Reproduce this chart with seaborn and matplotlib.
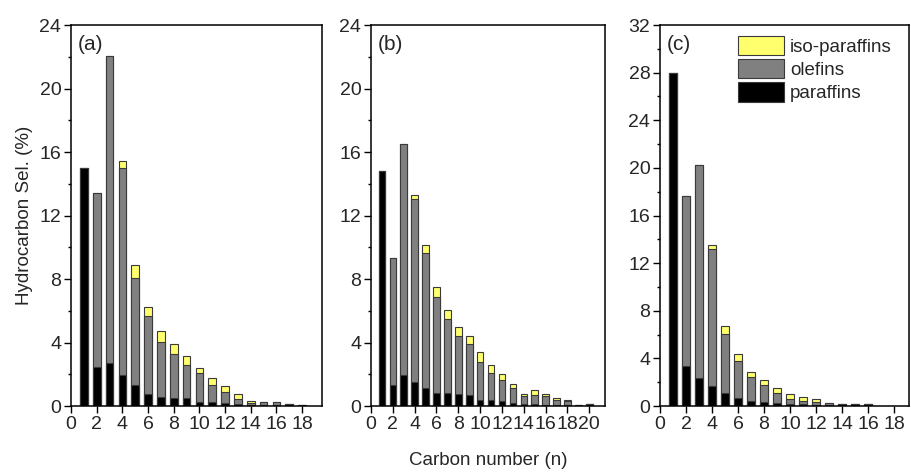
"""
탄화수소 선택도 분포 (a)(b)(c) - 적층 막대그래프
"""

import numpy as np
import matplotlib
matplotlib.use('Agg')
import matplotlib.pyplot as plt
import seaborn as sns
from matplotlib.patches import Patch
from matplotlib.ticker import MultipleLocator

sns.set_style('ticks')
plt.rcParams['font.family'] = ['Liberation Sans', 'DejaVu Sans']

# 데이터 (그림에서 읽은 값, %)
carbon_a = np.arange(1, 19)
paraffins_a = [15.0, 2.45, 2.68, 1.97, 1.30, 0.75, 0.59, 0.52, 0.48, 0.25, 0.25, 0.21, 0.15, 0.06, 0.06, 0.05, 0.13, 0.08]
olefins_a = [0, 10.95, 19.4, 13.0, 6.75, 4.93, 3.46, 2.75, 2.08, 1.83, 1.07, 0.67, 0.29, 0.13, 0.19, 0.20, 0, 0]
iso_a = [0, 0, 0, 0.48, 0.82, 0.57, 0.67, 0.63, 0.58, 0.31, 0.42, 0.36, 0.31, 0.12, 0, 0, 0, 0]

carbon_b = np.arange(1, 21)
paraffins_b = [14.8, 1.33, 1.94, 1.52, 1.12, 0.84, 0.84, 0.78, 0.67, 0.36, 0.36, 0.29, 0.21, 0.13, 0.13, 0.06, 0.06, 0.04, 0.06, 0.13]
olefins_b = [0, 8.02, 14.59, 11.53, 8.50, 6.02, 4.65, 3.64, 3.22, 2.44, 1.72, 1.33, 0.91, 0.50, 0.59, 0.55, 0.34, 0.29, 0, 0]
iso_b = [0, 0, 0, 0.25, 0.51, 0.61, 0.59, 0.55, 0.53, 0.59, 0.53, 0.38, 0.29, 0.15, 0.27, 0.17, 0.11, 0.05, 0, 0]

carbon_c = np.arange(1, 17)
paraffins_c = [28.0, 3.34, 2.38, 1.71, 1.07, 0.70, 0.42, 0.34, 0.25, 0.17, 0.14, 0.11, 0.12, 0.17, 0.14, 0.14]
olefins_c = [0, 14.27, 17.89, 11.47, 4.99, 3.06, 2.02, 1.43, 0.82, 0.45, 0.25, 0.23, 0.10, 0, 0, 0]
iso_c = [0, 0, 0, 0.31, 0.64, 0.59, 0.45, 0.42, 0.42, 0.36, 0.34, 0.22, 0, 0, 0, 0]

panel_labels = ['(a)', '(b)', '(c)']
y_max = [24, 24, 32]
x_max = [19.55, 21.44, 19.15]
x_ticks = [np.arange(0, 19, 2), np.arange(0, 21, 2), np.arange(0, 19, 2)]

# 색상
C_ISO = '#FFFF6E'
C_OLE = '#808080'
C_PAR = '#000000'
EDGE = '#3a3a3a'

# 축 위치 (figure 비율)
rects = [
    [0.0779, 0.1416, 0.2752, 0.8055],
    [0.4068, 0.1416, 0.2566, 0.8055],
    [0.7237, 0.1416, 0.2730, 0.8055],
]

fig = plt.figure(figsize=(9.12, 4.73), dpi=100)

datasets = [
    (carbon_a, paraffins_a, olefins_a, iso_a),
    (carbon_b, paraffins_b, olefins_b, iso_b),
    (carbon_c, paraffins_c, olefins_c, iso_c),
]

for i, (n, par, ole, iso) in enumerate(datasets):
    ax = fig.add_axes(rects[i])
    par = np.array(par)
    ole = np.array(ole)
    iso = np.array(iso)

    total = par + ole + iso
    par_ole = par + ole

    # 누적값을 겹쳐 그려 적층 효과
    common = dict(native_scale=True, width=0.6, saturation=1, errorbar=None,
                  edgecolor=EDGE, linewidth=0.8, ax=ax)
    sns.barplot(x=n, y=total, color=C_ISO, **common)
    sns.barplot(x=n, y=par_ole, color=C_OLE, **common)
    sns.barplot(x=n, y=par, color=C_PAR, **common)

    ax.set_xlim(0, x_max[i])
    ax.set_ylim(0, y_max[i])
    ax.set_xticks(x_ticks[i])
    ax.yaxis.set_major_locator(MultipleLocator(4))
    ax.yaxis.set_minor_locator(MultipleLocator(2))
    ax.tick_params(axis='both', which='major', direction='out', length=5,
                   width=1, labelsize=14, color='black', pad=2)
    ax.tick_params(axis='y', which='minor', direction='out', length=2.5,
                   width=1, color='black')
    ax.tick_params(top=False, right=False)
    for sp in ax.spines.values():
        sp.set_visible(True)
        sp.set_color('black')
        sp.set_linewidth(1.1)
    ax.set_xlabel('')
    ax.set_ylabel('')

    ax.text(0.028, 0.975, panel_labels[i], transform=ax.transAxes,
            ha='left', va='top', fontsize=15)

    if i == 0:
        ax.set_ylabel('Hydrocarbon Sel. (%)', fontsize=13.5, labelpad=5)

    if i == 2:
        handles = [Patch(facecolor=C_ISO, edgecolor=EDGE, linewidth=0.8),
                   Patch(facecolor=C_OLE, edgecolor=EDGE, linewidth=0.8),
                   Patch(facecolor=C_PAR, edgecolor=EDGE, linewidth=0.8)]
        ax.legend(handles, ['iso-paraffins', 'olefins', 'paraffins'],
                  loc='upper left', bbox_to_anchor=(0.315, 0.972),
                  frameon=False, fontsize=13.5, borderpad=0, borderaxespad=0,
                  handlelength=2.45, handleheight=1.2, labelspacing=0.18,
                  handletextpad=0.3)

fig.text(0.535, 0.009, 'Carbon number (n)', ha='center', va='bottom', fontsize=13.5)

plt.savefig('out.png', dpi=100)
plt.close()
